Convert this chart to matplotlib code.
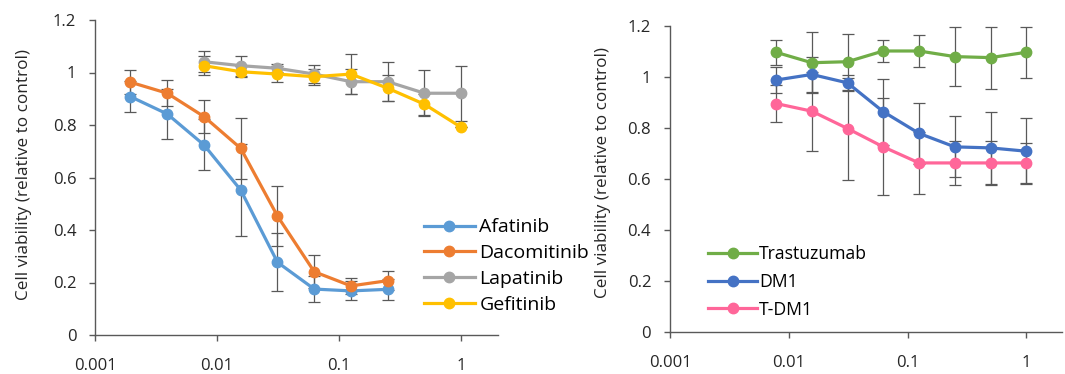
import numpy as np
import matplotlib
matplotlib.use("Agg")
import matplotlib.pyplot as plt

plt.rcParams['font.family'] = ['Open Sans', 'DejaVu Sans']

# ---- data ----
conc_left_full = [1/512, 1/256, 1/128, 1/64, 1/32, 1/16, 1/8, 1/4]
conc_left_hi = [1/128, 1/64, 1/32, 1/16, 1/8, 1/4, 1/2, 1]

afatinib = [0.908, 0.842, 0.724, 0.552, 0.277, 0.175, 0.168, 0.174]
afatinib_err = [0.06, 0.095, 0.097, 0.175, 0.11, 0.05, 0.036, 0.04]
dacomitinib = [0.963, 0.921, 0.832, 0.711, 0.453, 0.241, 0.187, 0.207]
dacomitinib_err = [0.045, 0.05, 0.063, 0.115, 0.115, 0.063, 0.032, 0.035]
lapatinib = [1.041, 1.026, 1.016, 0.994, 0.965, 0.965, 0.921, 0.921]
lapatinib_err = [0.04, 0.038, 0.015, 0.035, 0.047, 0.075, 0.087, 0.105]
gefitinib = [1.026, 1.003, 0.994, 0.984, 0.994, 0.94, 0.879, 0.791]
gefitinib_err = [0.035, 0.02, 0.03, 0.03, 0.077, 0.05, 0.04, 0.0]

conc_right = [1/128, 1/64, 1/32, 1/16, 1/8, 1/4, 1/2, 1]
trastuzumab = [1.097, 1.056, 1.06, 1.102, 1.102, 1.08, 1.076, 1.097]
trastuzumab_err = [0.05, 0.12, 0.11, 0.045, 0.063, 0.115, 0.122, 0.1]
dm1 = [0.988, 1.01, 0.977, 0.864, 0.779, 0.726, 0.722, 0.709]
dm1_err = [0.05, 0.07, 0.03, 0.13, 0.12, 0.12, 0.14, 0.13]
tdm1 = [0.896, 0.866, 0.798, 0.726, 0.663, 0.663, 0.663, 0.663]
tdm1_err = [0.072, 0.155, 0.2, 0.19, 0.12, 0.085, 0.087, 0.08]

left_series = [
    ("Afatinib", conc_left_full, afatinib, afatinib_err, "#5B9BD5"),
    ("Dacomitinib", conc_left_full, dacomitinib, dacomitinib_err, "#ED7D31"),
    ("Lapatinib", conc_left_hi, lapatinib, lapatinib_err, "#A5A5A5"),
    ("Gefitinib", conc_left_hi, gefitinib, gefitinib_err, "#FFC000"),
]
right_series = [
    ("Trastuzumab", conc_right, trastuzumab, trastuzumab_err, "#70AD47"),
    ("DM1", conc_right, dm1, dm1_err, "#4472C4"),
    ("T-DM1", conc_right, tdm1, tdm1_err, "#FF6699"),
]

x_ticks = [0.001, 0.01, 0.1, 1]
x_ticklabels = ["0.001", "0.01", "0.1", "1"]
y_ticks = [0, 0.2, 0.4, 0.6, 0.8, 1.0, 1.2]
y_ticklabels = ["0", "0.2", "0.4", "0.6", "0.8", "1", "1.2"]

W, H = 1065, 374
fig = plt.figure(figsize=(W/100, H/100), dpi=100)

ax1 = fig.add_axes([95/W, (H-335)/H, (498-95)/W, (335-20)/H])
ax2 = fig.add_axes([670/W, (H-332)/H, (1062-670)/W, (332-26)/H])

axis_col = "#595959"
txt_col = "#262626"
fs = 12

def style(ax, series, leg_anchor, leg_fs, spacing, hlen, hpad, lab_xy):
    for name, x, y, e, c in series:
        ax.errorbar(x, y, yerr=e, fmt='none', ecolor="#595959", elinewidth=0.9,
                    capsize=4, capthick=0.9, zorder=2)
    for name, x, y, e, c in series:
        ax.plot(x, y, '-o', color=c, lw=2.3, ms=7.5, label=name, zorder=3)
    ax.set_xscale('log')
    ax.set_xlim(0.001, 2)
    ax.set_ylim(0, 1.2)
    ax.set_xticks(x_ticks)
    ax.set_xticklabels(x_ticklabels)
    ax.set_yticks(y_ticks)
    ax.set_yticklabels(y_ticklabels)
    ax.minorticks_off()
    for s in ['top', 'right']:
        ax.spines[s].set_visible(False)
    for s in ['left', 'bottom']:
        ax.spines[s].set_color(axis_col)
        ax.spines[s].set_linewidth(1.0)
    ax.tick_params(axis='both', direction='out', length=4.5, width=1.0,
                   color=axis_col, labelsize=fs, labelcolor=txt_col)
    ax.tick_params(axis='y', pad=9)
    ax.tick_params(axis='x', pad=12)
    ax.set_ylabel("Cell viability (relative to control)", fontsize=12.3,
                  color=txt_col)
    ax.yaxis.set_label_coords(*lab_xy)
    ax.legend(loc='center left', bbox_to_anchor=leg_anchor,
              bbox_transform=fig.transFigure, frameon=False, fontsize=leg_fs,
              handlelength=hlen, handletextpad=hpad, labelspacing=spacing,
              borderpad=0, borderaxespad=0)

style(ax1, left_series, (424/W, 1-266/H), 14, 0.4, 2.6, 0.25, (-0.156, 0.508))
style(ax2, right_series, (708/W, 1-282/H), 12.7, 0.54, 2.8, 0.1, (-0.15, 0.52))

fig.savefig("out.png", dpi=100)
